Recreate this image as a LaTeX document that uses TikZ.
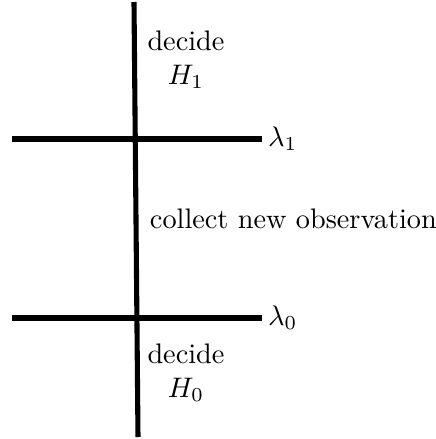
\documentclass[tikz,border=0pt]{standalone}
\usetikzlibrary{positioning}
\tikzset{
  bar/.style={line width=1.8pt},
  lbl/.style={inner sep=1pt, anchor=west},
  txt/.style={align=center},
}
\begin{document}
\begin{tikzpicture}[x=0.01243cm, y=-0.01243cm]
    \useasboundingbox (0,0) rectangle (436,439);
    % axis
    \coordinate (top) at (134,2);
    \coordinate (bot) at (138,437);
    \draw[bar] (top) -- (bot);
    % thresholds
    \coordinate (t1) at (12,139);
    \coordinate (e1) at (262,139);
    \coordinate (t0) at (12,318);
    \coordinate (e0) at (262,318);
    \draw[bar] (t1) -- (e1);
    \draw[bar] (t0) -- (e0);
    \node[lbl] (lam1) at ([xshift=1]e1) {$\lambda_1$};
    \node[lbl] (lam0) at ([xshift=1]e0) {$\lambda_0$};
    % regions
    \node[txt] (dec1) at (186,60) {decide\\ $H_1$};
    \node[anchor=west] (coll) at (140,219) {collect new observation};
    \node[txt] (dec0) at (186,373) {decide\\ $H_0$};
\end{tikzpicture}
\end{document}
